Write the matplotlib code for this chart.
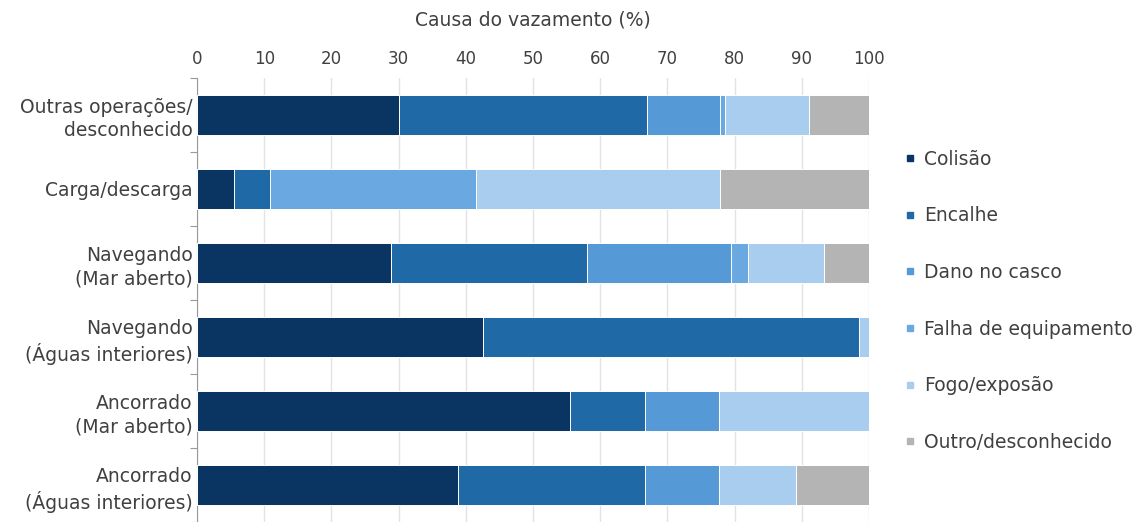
import matplotlib
matplotlib.use("Agg")
import matplotlib.pyplot as plt
from matplotlib.lines import Line2D
import numpy as np

# Operations (rows, top to bottom)
categories = [
    "Outras operações/\ndesconhecido",
    "Carga/descarga",
    "Navegando\n(Mar aberto)",
    "Navegando\n(Águas interiores)",
    "Ancorrado\n(Mar aberto)",
    "Ancorrado\n(Águas interiores)",
]

# Causes of the spill (%) for each operation
causes = ["Colisão", "Encalhe", "Dano no casco", "Falha de equipamento",
          "Fogo/exposão", "Outro/desconhecido"]
colisao = [30.0, 5.5, 28.8, 42.6, 55.5, 38.9]
encalhe = [37.0, 5.4, 29.3, 55.9, 11.1, 27.7]
dano_casco = [10.8, 0.0, 21.3, 0.0, 11.1, 11.1]
falha_equip = [0.8, 30.6, 2.6, 0.0, 0.0, 0.0]
fogo_explosao = [12.5, 36.3, 11.3, 1.5, 22.3, 11.4]
outro = [8.9, 22.2, 6.7, 0.0, 0.0, 10.9]

series = [colisao, encalhe, dano_casco, falha_equip, fogo_explosao, outro]
colors = ["#0a3461", "#1f69a6", "#5599d6", "#69a8e0", "#a9cdee", "#b4b4b4"]

xticks = list(range(0, 101, 10))

text_color = "#404040"
plt.rcParams["font.family"] = ["DejaVu Sans"]

fig = plt.figure(figsize=(11.35, 5.22), dpi=100)
ax = fig.add_axes([197 / 1135, 0.0, 672 / 1135, 444 / 522])

y = np.arange(len(categories))
left = np.zeros(len(categories))
for vals, col, name in zip(series, colors, causes):
    vals = np.array(vals)
    ax.barh(y, vals, left=left, height=0.53, color=col, edgecolor="white",
            linewidth=0.7, label=name, zorder=3)
    left += vals

ax.set_xlim(0, 100)
ax.set_ylim(len(categories) - 0.5, -0.5)

# x axis on top, with light vertical grid
ax.xaxis.tick_top()
ax.xaxis.set_label_position("top")
ax.set_xticks(xticks)
ax.set_xticklabels([str(t) for t in xticks])
ax.tick_params(axis="x", length=0, pad=7, labelsize=12, labelcolor=text_color)
ax.set_xlabel("Causa do vazamento (%)", fontsize=13.5, color=text_color, labelpad=18)
ax.grid(axis="x", color="#e3e3e3", linewidth=1.0, zorder=0)

# y axis: tick marks between categories, labels at row centres
ax.set_yticks(np.arange(-0.5, len(categories), 1.0))
ax.set_yticklabels([])
ax.set_yticks(y, minor=True)
ax.set_yticklabels(categories, minor=True, fontsize=13.5, color=text_color,
                   ha="right", linespacing=1.3)
ax.tick_params(axis="y", which="major", length=5, color="#999999", direction="out")
ax.tick_params(axis="y", which="minor", length=0, pad=3)

for side in ["top", "right", "bottom"]:
    ax.spines[side].set_visible(False)
ax.spines["left"].set_color("#999999")

handles = [Line2D([], [], marker="s", linestyle="none", markersize=5,
                  markerfacecolor=c, markeredgecolor=c) for c in colors]
leg = fig.legend(handles, causes, loc="upper left",
                 bbox_to_anchor=(897 / 1135, 1 - 142 / 522),
                 frameon=False, fontsize=13.5, labelspacing=2.01,
                 handlelength=0.6, handletextpad=0.45, borderaxespad=0)
for t in leg.get_texts():
    t.set_color(text_color)

fig.savefig("out.png", dpi=100, facecolor="white")
